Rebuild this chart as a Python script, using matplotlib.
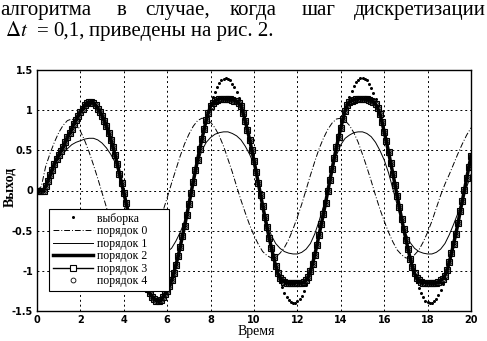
import numpy as np
import matplotlib.pyplot as plt

plt.rcParams['mathtext.fontset'] = 'stix'
SERIF = ['Liberation Serif', 'DejaVu Serif']

# time grids: samples every 0.1, low-order model curves read every 0.2
t = np.arange(201) * 0.1
t_coarse = np.arange(101) * 0.2

# "выборка" - sampled output, one row per unit of time
sample = np.array([
    0.00, 0.00, 0.00, 0.00, 0.05, 0.12, 0.19, 0.26, 0.33, 0.39,
    0.44, 0.49, 0.54, 0.60, 0.66, 0.71, 0.77, 0.83, 0.88, 0.93,
    0.98, 1.02, 1.06, 1.09, 1.10, 1.10, 1.09, 1.06, 1.02, 0.98,
    0.93, 0.87, 0.80, 0.72, 0.63, 0.54, 0.44, 0.33, 0.21, 0.09,
    -0.03, -0.15, -0.28, -0.42, -0.54, -0.67, -0.78, -0.89, -0.99, -1.08,
    -1.16, -1.23, -1.28, -1.32, -1.35, -1.37, -1.37, -1.36, -1.33, -1.29,
    -1.25, -1.19, -1.12, -1.03, -0.93, -0.82, -0.70, -0.57, -0.44, -0.31,
    -0.17, -0.03, 0.11, 0.25, 0.38, 0.52, 0.64, 0.76, 0.88, 0.98,
    1.08, 1.16, 1.23, 1.29, 1.34, 1.37, 1.39, 1.40, 1.39, 1.37,
    1.33, 1.29, 1.22, 1.15, 1.07, 0.97, 0.86, 0.75, 0.63, 0.50,
    0.37, 0.23, 0.09, -0.05, -0.19, -0.33, -0.46, -0.59, -0.71, -0.83,
    -0.94, -1.04, -1.13, -1.20, -1.27, -1.32, -1.36, -1.39, -1.40, -1.40,
    -1.38, -1.35, -1.31, -1.25, -1.18, -1.10, -1.01, -0.91, -0.80, -0.68,
    -0.55, -0.42, -0.29, -0.15, -0.01, 0.13, 0.27, 0.41, 0.54, 0.66,
    0.78, 0.89, 1.00, 1.09, 1.17, 1.24, 1.30, 1.35, 1.38, 1.40,
    1.40, 1.39, 1.37, 1.33, 1.28, 1.21, 1.14, 1.05, 0.95, 0.85,
    0.73, 0.61, 0.48, 0.34, 0.21, 0.07, -0.07, -0.21, -0.35, -0.48,
    -0.61, -0.73, -0.85, -0.96, -1.05, -1.14, -1.21, -1.28, -1.33, -1.37,
    -1.39, -1.40, -1.40, -1.38, -1.35, -1.30, -1.24, -1.17, -1.09, -1.00,
    -0.89, -0.78, -0.66, -0.54, -0.41, -0.26, -0.13, 0.01, 0.15, 0.29,
    0.43,
])

# orders 2..4 lie on top of each other at this scale
order2 = np.array([
    0.00, 0.00, 0.00, 0.00, 0.05, 0.12, 0.19, 0.26, 0.33, 0.39,
    0.44, 0.49, 0.54, 0.60, 0.66, 0.71, 0.77, 0.83, 0.88, 0.93,
    0.98, 1.02, 1.06, 1.09, 1.10, 1.10, 1.09, 1.06, 1.02, 0.98,
    0.93, 0.87, 0.80, 0.72, 0.63, 0.54, 0.44, 0.33, 0.21, 0.09,
    -0.03, -0.15, -0.28, -0.42, -0.54, -0.67, -0.78, -0.89, -0.99, -1.08,
    -1.16, -1.23, -1.28, -1.32, -1.35, -1.37, -1.37, -1.36, -1.33, -1.29,
    -1.25, -1.19, -1.12, -1.03, -0.93, -0.82, -0.70, -0.57, -0.44, -0.31,
    -0.17, -0.03, 0.11, 0.25, 0.38, 0.52, 0.64, 0.76, 0.88, 0.97,
    1.05, 1.09, 1.11, 1.13, 1.14, 1.14, 1.14, 1.14, 1.14, 1.14,
    1.13, 1.12, 1.11, 1.09, 1.05, 0.96, 0.86, 0.75, 0.63, 0.50,
    0.37, 0.23, 0.09, -0.05, -0.19, -0.33, -0.46, -0.59, -0.71, -0.83,
    -0.94, -1.03, -1.09, -1.12, -1.14, -1.15, -1.15, -1.15, -1.15, -1.15,
    -1.15, -1.15, -1.15, -1.14, -1.12, -1.08, -1.00, -0.91, -0.80, -0.68,
    -0.55, -0.42, -0.29, -0.15, -0.01, 0.13, 0.27, 0.41, 0.54, 0.66,
    0.78, 0.89, 0.99, 1.06, 1.10, 1.12, 1.13, 1.14, 1.14, 1.14,
    1.14, 1.14, 1.14, 1.13, 1.12, 1.10, 1.08, 1.03, 0.95, 0.85,
    0.73, 0.61, 0.48, 0.34, 0.21, 0.07, -0.07, -0.21, -0.35, -0.48,
    -0.61, -0.73, -0.85, -0.95, -1.03, -1.09, -1.12, -1.14, -1.15, -1.15,
    -1.15, -1.15, -1.15, -1.15, -1.15, -1.14, -1.12, -1.10, -1.06, -0.99,
    -0.89, -0.78, -0.66, -0.54, -0.41, -0.26, -0.13, 0.01, 0.15, 0.29,
    0.43,
])
order3 = order2
order4 = order2

# "порядок 0" (dash-dot), every 0.2
order0 = np.array([
    0.00, 0.05, 0.30, 0.46, 0.60,
    0.72, 0.81, 0.87, 0.89, 0.85,
    0.74, 0.62, 0.48, 0.32, 0.15,
    -0.03, -0.21, -0.38, -0.54, -0.67,
    -0.76, -0.82, -0.84, -0.84, -0.82,
    -0.77, -0.69, -0.57, -0.42, -0.26,
    -0.09, 0.09, 0.26, 0.43, 0.58,
    0.70, 0.80, 0.87, 0.90, 0.89,
    0.85, 0.78, 0.68, 0.55, 0.39,
    0.23, 0.05, -0.12, -0.28, -0.43,
    -0.56, -0.67, -0.76, -0.81, -0.84,
    -0.83, -0.78, -0.71, -0.61, -0.48,
    -0.33, -0.17, 0.01, 0.19, 0.36,
    0.52, 0.65, 0.76, 0.84, 0.89,
    0.90, 0.87, 0.81, 0.72, 0.60,
    0.45, 0.29, 0.12, -0.06, -0.23,
    -0.38, -0.52, -0.64, -0.74, -0.80,
    -0.84, -0.84, -0.80, -0.74, -0.64,
    -0.52, -0.38, -0.22, -0.06, 0.08,
    0.20, 0.33, 0.46, 0.58, 0.69,
    0.78,
])

# "порядок 1" (thin solid), every 0.2
order1 = np.array([
    0.00, 0.00, 0.04, 0.16, 0.28,
    0.38, 0.46, 0.52, 0.57, 0.60,
    0.62, 0.64, 0.65, 0.65, 0.63,
    0.59, 0.53, 0.45, 0.35, 0.20,
    0.00, -0.20, -0.38, -0.52, -0.62,
    -0.69, -0.74, -0.77, -0.78, -0.78,
    -0.76, -0.72, -0.63, -0.52, -0.39,
    -0.17, 0.10, 0.33, 0.50, 0.60,
    0.66, 0.70, 0.72, 0.73, 0.73,
    0.71, 0.68, 0.63, 0.55, 0.45,
    0.32, 0.10, -0.17, -0.40, -0.56,
    -0.66, -0.72, -0.76, -0.78, -0.79,
    -0.79, -0.77, -0.73, -0.66, -0.54,
    -0.38, -0.20, 0.00, 0.24, 0.44,
    0.57, 0.65, 0.69, 0.72, 0.73,
    0.73, 0.71, 0.67, 0.60, 0.50,
    0.38, 0.22, 0.02, -0.18, -0.38,
    -0.54, -0.65, -0.72, -0.76, -0.78,
    -0.79, -0.79, -0.77, -0.73, -0.66,
    -0.55, -0.42, -0.28, -0.12, 0.04,
    0.20,
])

labels = ['выборка', 'порядок 0', 'порядок 1', 'порядок 2',
          'порядок 3', 'порядок 4']
xticks = [0, 2, 4, 6, 8, 10, 12, 14, 16, 18, 20]
yticks = [-1.5, -1, -0.5, 0, 0.5, 1, 1.5]
ytick_labels = ['-1.5', '-1', '-0.5', '0', '0.5', '1', '1.5']

W, H = 487, 341
fig = plt.figure(figsize=(W / 100, H / 100), dpi=100)

# surrounding text of the paper page (justified first line)
words = [('алгоритма', 0, 'left'), ('в', 117, 'left'), ('случае,', 145, 'left'),
         ('когда', 230, 'left'), ('шаг', 302, 'left'),
         ('дискретизации', 486, 'right')]
for w, x, ha in words:
    fig.text(x / W, 1 - 15 / H, w, family=SERIF, fontsize=15,
             ha=ha, va='baseline')
line2 = [(r'$\Delta t$', 5), ('=', 37), ('0,1,', 53),
         ('приведены на рис. 2.', 89)]
for w, x in line2:
    fig.text(x / W, 1 - 36 / H, w, family=SERIF, fontsize=15,
             ha='left', va='baseline')

ax = fig.add_axes([37 / W, 30 / H, 434 / W, 241 / H])

h0 = ax.plot(t_coarse, order0, color='k', lw=0.7, ls=(0, (6, 2, 1, 2)))[0]
h1 = ax.plot(t_coarse, order1, color='k', lw=0.7)[0]
h3 = ax.plot(t, order3, color='k', lw=1, marker='s', ms=5, mfc='white',
             mec='k', mew=0.8)[0]
h2 = ax.plot(t, order2, color='k', lw=2.5)[0]
h4 = ax.plot(t, order4, ls='none', marker='o', ms=3.5, mfc='none',
             mec='k', mew=0.6)[0]
hs = ax.plot(t, sample, ls='none', marker='o', ms=2.2, color='k', mew=0,
             zorder=5)[0]

ax.set_xlim(0, 20)
ax.set_ylim(-1.5, 1.5)
ax.set_xticks(xticks)
ax.set_yticks(yticks)
ax.set_yticklabels(ytick_labels)
ax.tick_params(length=0, pad=3, labelsize=7)
for lab in ax.get_xticklabels() + ax.get_yticklabels():
    lab.set_fontweight('bold')
ax.grid(True, color='k', lw=0.7, ls=(0, (2, 3)))
for s in ax.spines.values():
    s.set_linewidth(1)

fig.text(10 / W, 1 - 187 / H, 'Выход', family=SERIF, fontsize=10,
         fontweight='bold', rotation=90, ha='center', va='center')
fig.text(256 / W, 1 - 331 / H, 'Время', family=SERIF, fontsize=10,
         ha='center', va='center')

leg = ax.legend([hs, h0, h1, h2, h3, h4], [s + '      ' for s in labels],
                loc='upper left', bbox_to_anchor=(12 / 434, 102 / 241),
                prop={'family': SERIF, 'size': 8.5},
                fancybox=False, framealpha=1, edgecolor='k',
                handlelength=3.4, labelspacing=0.05, borderpad=0.3,
                handletextpad=0.4, borderaxespad=0)
leg.get_frame().set_linewidth(0.8)

fig.savefig('out.png', dpi=100)
